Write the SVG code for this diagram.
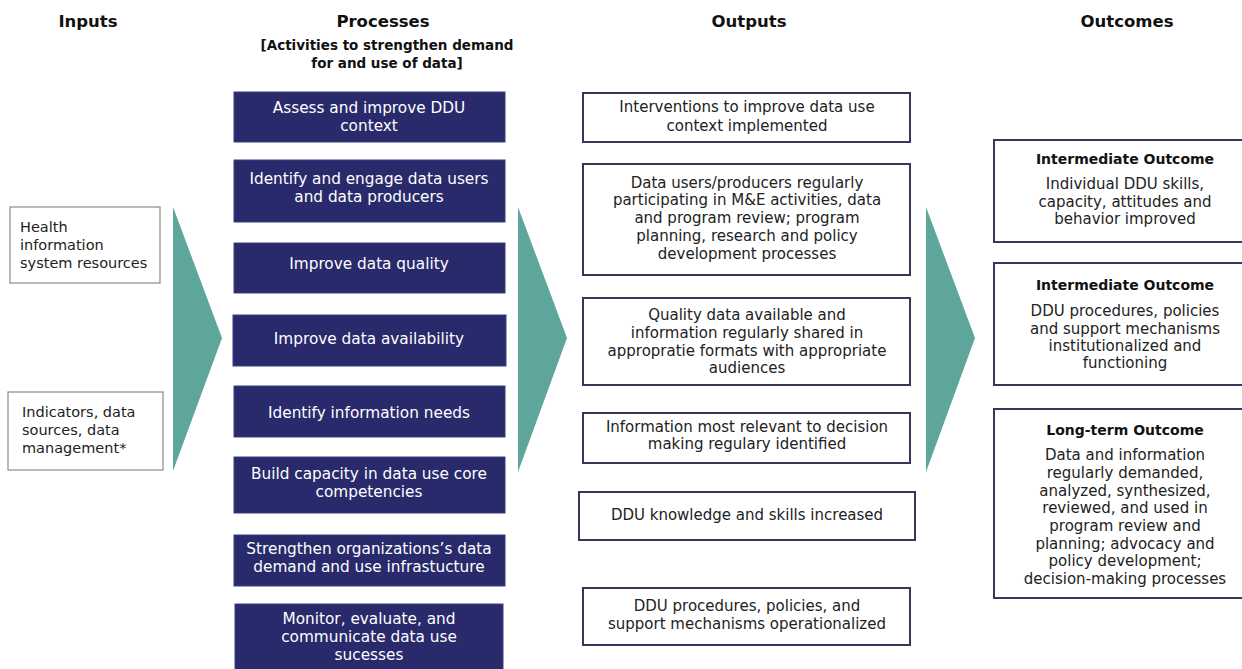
<svg xmlns="http://www.w3.org/2000/svg" width="1242" height="669" viewBox="0 0 1242 669">
<style>
text{font-family:"DejaVu Sans","Liberation Sans",sans-serif;}
.hdr{font-size:16.5px;font-weight:bold;fill:#111;text-anchor:middle;}
.sub{font-size:13.5px;font-weight:bold;fill:#111;text-anchor:middle;}
.in{fill:#fff;stroke:#8a8a8a;stroke-width:1.2;}
.intx{font-size:14.5px;fill:#222;}
.proc{fill:#292a6b;stroke:#3c3e80;stroke-width:1;}
.ptx{font-size:15.3px;fill:#fff;text-anchor:middle;}
.out{fill:#fff;stroke:#34365a;stroke-width:2;}
.otx{font-size:15px;fill:#222;text-anchor:middle;}
.oth{font-size:14px;font-weight:bold;fill:#111;text-anchor:middle;}
.arr{fill:#5ea59c;}
</style>
<rect width="1242" height="669" fill="#fff"/>
<g id="headers">
<text class="hdr" x="88" y="27">Inputs</text>
<text class="hdr" x="383" y="27">Processes</text>
<text class="sub" x="387" y="50">[Activities to strengthen demand</text>
<text class="sub" x="387" y="68">for and use of data]</text>
<text class="hdr" x="749" y="27">Outputs</text>
<text class="hdr" x="1127" y="27">Outcomes</text>
</g>
<g id="connectors">
<polygon class="arr" points="173,207 222,338 173,471"/>
<polygon class="arr" points="518,207 567,338 518,472"/>
<polygon class="arr" points="926,207 975,338 926,472"/>
</g>
<g id="input1"><rect class="in" x="10" y="207" width="150" height="76"/>
<text class="intx" x="20" y="232">Health</text><text class="intx" x="20" y="250">information</text><text class="intx" x="20" y="268">system resources</text></g>
<g id="input2"><rect class="in" x="8" y="392" width="155" height="78"/>
<text class="intx" x="22" y="417">Indicators, data</text><text class="intx" x="22" y="435">sources, data</text><text class="intx" x="22" y="453">management*</text></g>
<g id="proc1"><rect class="proc" x="234" y="92" width="271" height="50"/>
<text class="ptx" x="369" y="113">Assess and improve DDU</text><text class="ptx" x="369" y="131">context</text></g>
<g id="proc2"><rect class="proc" x="234" y="160" width="271" height="62"/>
<text class="ptx" x="369" y="184">Identify and engage data users</text><text class="ptx" x="369" y="202">and data producers</text></g>
<g id="proc3"><rect class="proc" x="234" y="243" width="271" height="50"/>
<text class="ptx" x="369" y="269">Improve data quality</text></g>
<g id="proc4"><rect class="proc" x="233" y="315" width="273" height="51"/>
<text class="ptx" x="369" y="344">Improve data availability</text></g>
<g id="proc5"><rect class="proc" x="234" y="386" width="271" height="51"/>
<text class="ptx" x="369" y="418">Identify information needs</text></g>
<g id="proc6"><rect class="proc" x="234" y="457" width="271" height="56"/>
<text class="ptx" x="369" y="479">Build capacity in data use core</text><text class="ptx" x="369" y="497">competencies</text></g>
<g id="proc7"><rect class="proc" x="234" y="535" width="271" height="51"/>
<text class="ptx" x="369" y="554">Strengthen organizations’s data</text><text class="ptx" x="369" y="572">demand and use infrastucture</text></g>
<g id="proc8"><rect class="proc" x="235" y="604" width="268" height="70"/>
<text class="ptx" x="369" y="624">Monitor, evaluate, and</text><text class="ptx" x="369" y="642">communicate data use</text><text class="ptx" x="369" y="660">sucesses</text></g>
<g id="out1"><rect class="out" x="583" y="93" width="327" height="49"/>
<text class="otx" x="747" y="112">Interventions to improve data use</text><text class="otx" x="747" y="131">context implemented</text></g>
<g id="out2"><rect class="out" x="583" y="164" width="327" height="111"/>
<text class="otx" x="747" y="188">Data users/producers regularly</text><text class="otx" x="747" y="205">participating in M&amp;E activities, data</text><text class="otx" x="747" y="223">and program review; program</text><text class="otx" x="747" y="241">planning, research and policy</text><text class="otx" x="747" y="259">development processes</text></g>
<g id="out3"><rect class="out" x="583" y="298" width="327" height="87"/>
<text class="otx" x="747" y="320">Quality data available and</text><text class="otx" x="747" y="338">information regularly shared in</text><text class="otx" x="747" y="356">appropratie formats with appropriate</text><text class="otx" x="747" y="373">audiences</text></g>
<g id="out4"><rect class="out" x="583" y="413" width="327" height="50"/>
<text class="otx" x="747" y="432">Information most relevant to decision</text><text class="otx" x="747" y="449">making regulary identified</text></g>
<g id="out5"><rect class="out" x="579" y="492" width="336" height="48"/>
<text class="otx" x="747" y="520">DDU knowledge and skills increased</text></g>
<g id="out6"><rect class="out" x="583" y="588" width="327" height="57"/>
<text class="otx" x="747" y="611">DDU procedures, policies, and</text><text class="otx" x="747" y="629">support mechanisms operationalized</text></g>
<g id="outc1"><rect class="out" x="994" y="140" width="262" height="102"/>
<text class="oth" x="1125" y="164">Intermediate Outcome</text><text class="otx" x="1125" y="189">Individual DDU skills,</text><text class="otx" x="1125" y="207">capacity, attitudes and</text><text class="otx" x="1125" y="224">behavior improved</text></g>
<g id="outc2"><rect class="out" x="994" y="263" width="262" height="122"/>
<text class="oth" x="1125" y="290">Intermediate Outcome</text><text class="otx" x="1125" y="316">DDU procedures, policies</text><text class="otx" x="1125" y="334">and support mechanisms</text><text class="otx" x="1125" y="351">institutionalized and</text><text class="otx" x="1125" y="368">functioning</text></g>
<g id="outc3"><rect class="out" x="994" y="409" width="262" height="189"/>
<text class="oth" x="1125" y="435">Long-term Outcome</text><text class="otx" x="1125" y="460">Data and information</text><text class="otx" x="1125" y="478">regularly demanded,</text><text class="otx" x="1125" y="496">analyzed, synthesized,</text><text class="otx" x="1125" y="513">reviewed, and used in</text><text class="otx" x="1125" y="531">program review and</text><text class="otx" x="1125" y="549">planning; advocacy and</text><text class="otx" x="1125" y="566">policy development;</text><text class="otx" x="1125" y="584">decision-making processes</text></g>
</svg>
